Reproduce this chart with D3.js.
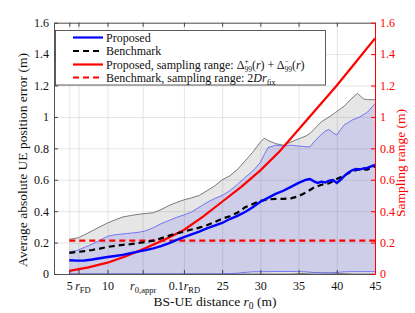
<!DOCTYPE html>
<html>
<head>
<meta charset="utf-8">
<style>
  body { margin: 0; background: #fff; }
  svg { font-family: "Liberation Serif", "DejaVu Serif", serif; }
</style>
</head>
<body>
<svg width="415" height="313"></svg>
<script src="https://cdn.jsdelivr.net/npm/d3@7"></script>
<script>

// ---- data ----
var xTicks = [5, 6.2, 10, 14.6, 20, 25, 30, 35, 40, 45];
var xTickLabels = ["5", "r|FD", "10", "r|0,appr", "0.1r|RD", "25", "30", "35", "40", "45"];
var yTicks = [0, 0.2, 0.4, 0.6, 0.8, 1, 1.2, 1.4, 1.6];

// proposed, average error
var propX = [5, 6, 7, 8, 9, 10, 11, 12, 13, 14, 15, 16, 17, 18, 19, 20, 21, 22, 23, 24, 25, 26, 27, 28, 29, 30,
  31, 32, 33, 34, 35, 36, 36.5, 37, 37.5, 38, 38.5, 39, 39.5, 40, 40.5, 41, 41.5, 42, 42.5, 43, 43.5, 44, 44.5, 45];
var propY = [0.088, 0.085, 0.086, 0.092, 0.1, 0.108, 0.115, 0.122, 0.132, 0.142, 0.152, 0.163, 0.178, 0.195, 0.215,
  0.235, 0.252, 0.27, 0.29, 0.308, 0.325, 0.35, 0.37, 0.395, 0.425, 0.46, 0.485, 0.51, 0.53, 0.555, 0.58, 0.6, 0.605,
  0.59, 0.58, 0.588, 0.582, 0.595, 0.598, 0.58, 0.6, 0.625, 0.645, 0.66, 0.668, 0.665, 0.672, 0.675, 0.685, 0.695];

// benchmark, average error
var benchX = [5, 6, 7, 8, 9, 10, 11, 12, 13, 14, 15, 16, 17, 18, 19, 20, 21, 22, 23, 24, 25, 26, 27, 28, 29, 30,
  31, 32, 33, 34, 35, 36, 37, 38, 39, 40, 41, 42, 43, 44, 45];
var benchY = [0.135, 0.14, 0.146, 0.153, 0.162, 0.172, 0.18, 0.186, 0.19, 0.197, 0.204, 0.212, 0.227, 0.243, 0.258,
  0.27, 0.283, 0.295, 0.31, 0.33, 0.352, 0.368, 0.39, 0.425, 0.445, 0.465, 0.475, 0.478, 0.478, 0.482, 0.495, 0.52,
  0.55, 0.568, 0.578, 0.605, 0.628, 0.655, 0.668, 0.665, 0.685];

// sampling ranges
var rangeX = [5, 7.5, 10, 12.5, 15, 17.5, 20, 22.5, 25, 27.5, 30, 32.5, 35, 37.5, 40, 42.5, 45];
var rangeProp = [0.02, 0.042, 0.072, 0.115, 0.165, 0.22, 0.28, 0.365, 0.46, 0.555, 0.66, 0.78, 0.92, 1.06, 1.2, 1.35, 1.5];
var rangeBench = 0.212;

// benchmark error band (upper edge; lower edge near zero)
var bandBX = [5, 6.2, 7, 8, 9, 10, 11, 12, 13, 14, 15, 16, 17, 18, 19, 20, 21, 22, 23, 24, 25, 26, 27, 28, 29, 30,
  30.5, 31, 32, 33, 34, 35, 36, 36.5, 37, 38, 39, 40, 41, 42, 42.7, 43.5, 44, 45];
var bandBHi = [0.221, 0.231, 0.25, 0.275, 0.3, 0.325, 0.345, 0.363, 0.372, 0.38, 0.385, 0.39, 0.41, 0.435, 0.455,
  0.472, 0.485, 0.5, 0.53, 0.56, 0.6, 0.625, 0.665, 0.72, 0.775, 0.84, 0.865, 0.85, 0.83, 0.82, 0.84, 0.86, 0.88,
  0.895, 0.92, 0.97, 1.0, 1.035, 1.07, 1.12, 1.15, 1.115, 1.11, 1.11];
var bandBLo = [0, 0, 0, 0, 0, 0, 0, 0, 0, 0, 0, 0, 0, 0, 0, 0, 0, 0, 0, 0, 0, 0, 0, 0, 0, 0,
  0, 0, 0, 0, 0, 0.002, 0.004, 0.005, 0.006, 0.006, 0.005, 0.004, 0.002, 0, 0, 0, 0, 0];

// proposed error band
var bandPX = [5, 6, 7, 8, 9, 10, 11, 12, 13, 14, 15, 16, 17, 18, 19, 20, 21, 22, 23, 24, 25, 26, 27, 28, 29, 30,
  30.5, 31, 32, 33, 34, 35, 36, 36.5, 37, 38, 38.5, 39, 39.5, 40, 40.5, 41, 42, 43, 44, 45];
var bandPHi = [0.142, 0.15, 0.17, 0.19, 0.215, 0.24, 0.25, 0.255, 0.26, 0.265, 0.275, 0.295, 0.32, 0.34, 0.36,
  0.376, 0.395, 0.425, 0.455, 0.48, 0.5, 0.53, 0.57, 0.615, 0.655, 0.71, 0.76, 0.805, 0.82, 0.815, 0.82, 0.815,
  0.81, 0.81, 0.84, 0.89, 0.91, 0.92, 0.9, 0.885, 0.92, 0.95, 0.98, 1.0, 1.03, 1.085];
var bandPLo = [0, 0, 0, 0, 0, 0, 0, 0, 0, 0, 0, 0, 0, 0, 0, 0, 0, 0, 0, 0, 0, 0.002, 0.005, 0.01, 0.014, 0.015,
  0.015, 0.015, 0.016, 0.016, 0.016, 0.015, 0.014, 0.012, 0.009, 0.007, 0.007, 0.007, 0.008, 0.01, 0.012, 0.014,
  0.015, 0.015, 0.015, 0.015];

var legendLabels = ["Proposed", "Benchmark", "Proposed, sampling range: ", "Benchmark, sampling range: "];

// ---- layout ----
var svg = d3.select("svg");
var pLeft = 54, pRight = 375, pTop = 22.7, pBottom = 274;

var x = d3.scaleLinear().domain([3, 45]).range([pLeft, pRight]);
var y = d3.scaleLinear().domain([0, 1.6]).range([pBottom, pTop]);

function zip(xs, ys) { return xs.map(function(d, i) { return [d, ys[i]]; }); }

// grid
svg.append("g")
    .attr("transform", "translate(0," + pBottom + ")")
    .call(d3.axisBottom(x).tickValues(xTicks).tickSize(-(pBottom - pTop)).tickFormat(""))
    .call(function(g) { g.select(".domain").remove(); })
    .selectAll("line").attr("stroke", "#dedede").attr("stroke-width", 0.8);
svg.append("g")
    .attr("transform", "translate(" + pLeft + ",0)")
    .call(d3.axisLeft(y).tickValues(yTicks).tickSize(-(pRight - pLeft)).tickFormat(""))
    .call(function(g) { g.select(".domain").remove(); })
    .selectAll("line").attr("stroke", "#dedede").attr("stroke-width", 0.8);

// bands
var area = d3.area()
    .x(function(d) { return x(d[0]); })
    .y0(function(d) { return y(d[2]); })
    .y1(function(d) { return y(d[1]); });
var line = d3.line()
    .x(function(d) { return x(d[0]); })
    .y(function(d) { return y(d[1]); });

var bandB = bandBX.map(function(d, i) { return [d, bandBHi[i], bandBLo[i]]; });
var bandP = bandPX.map(function(d, i) { return [d, bandPHi[i], bandPLo[i]]; });

svg.append("path").attr("d", area(bandB))
    .attr("fill", "rgba(128,128,128,0.2)");
svg.append("path").attr("d", line(zip(bandBX, bandBHi)))
    .attr("fill", "none").attr("stroke", "#5a5a5a").attr("stroke-width", 0.8);
svg.append("path").attr("d", line(zip(bandBX, bandBLo)))
    .attr("fill", "none").attr("stroke", "#5a5a5a").attr("stroke-width", 0.8);

svg.append("path").attr("d", area(bandP))
    .attr("fill", "rgba(0,0,255,0.1)");
svg.append("path").attr("d", line(zip(bandPX, bandPHi)))
    .attr("fill", "none").attr("stroke", "#5b5bf5").attr("stroke-width", 0.8);
svg.append("path").attr("d", line(zip(bandPX, bandPLo)))
    .attr("fill", "none").attr("stroke", "#5b5bf5").attr("stroke-width", 0.8);

// main curves
svg.append("path").attr("d", line(zip(rangeX, rangeProp)))
    .attr("fill", "none").attr("stroke", "#ff0000").attr("stroke-width", 2.2);
svg.append("path").attr("d", line([[5, rangeBench], [45, rangeBench]]))
    .attr("fill", "none").attr("stroke", "#ff0000").attr("stroke-width", 2.2)
    .attr("stroke-dasharray", "6,4");
svg.append("path").attr("d", line(zip(benchX, benchY)))
    .attr("fill", "none").attr("stroke", "#000").attr("stroke-width", 2.2)
    .attr("stroke-dasharray", "6,4");
svg.append("path").attr("d", line(zip(propX, propY)))
    .attr("fill", "none").attr("stroke", "#0000ff").attr("stroke-width", 2.4);

// axes (ticks point inward)
function tickLabel(sel, str) {
  var parts = str.split("|");
  sel.text(null);
  if (parts.length == 1) { sel.text(str); return; }
  var head = parts[0];
  var pre = head.slice(0, head.length - 1);
  if (pre) sel.append("tspan").text(pre);
  sel.append("tspan").attr("font-style", "italic").text("r");
  sel.append("tspan").attr("dy", 2.5).attr("font-size", "8.5px").text(parts[1]);
}

var xb = svg.append("g")
    .attr("transform", "translate(0," + pBottom + ")")
    .call(d3.axisBottom(x).tickValues(xTicks).tickSizeInner(-4).tickSizeOuter(0)
      .tickFormat(function(d, i) { return xTickLabels[i]; }));
xb.select(".domain").attr("stroke", "#555");
xb.selectAll("line").attr("stroke", "#444");
xb.selectAll("text").attr("fill", "#111").attr("font-size", "12px").attr("font-family", "Liberation Serif")
    .attr("y", 7.5)
    .each(function(d, i) { tickLabel(d3.select(this), xTickLabels[i]); });
// nudge crowded first labels
xb.selectAll(".tick").filter(function(d) { return d == 6.2; }).select("text").attr("dx", 4);

var xt = svg.append("g")
    .attr("transform", "translate(0," + pTop + ")")
    .call(d3.axisTop(x).tickValues(xTicks).tickSizeInner(-4).tickSizeOuter(0).tickFormat(""));
xt.select(".domain").attr("stroke", "#555");
xt.selectAll("line").attr("stroke", "#444");

var yl = svg.append("g")
    .attr("transform", "translate(" + pLeft + ",0)")
    .call(d3.axisLeft(y).tickValues(yTicks).tickSizeInner(-4).tickSizeOuter(0).tickFormat(d3.format("")));
yl.select(".domain").attr("stroke", "#555");
yl.selectAll("line").attr("stroke", "#444");
yl.selectAll("text").attr("fill", "#111").attr("font-size", "12px").attr("font-family", "Liberation Serif")
    .attr("x", -5);

var yr = svg.append("g")
    .attr("transform", "translate(" + pRight + ",0)")
    .call(d3.axisRight(y).tickValues(yTicks).tickSizeInner(-4).tickSizeOuter(0).tickFormat(d3.format("")));
yr.select(".domain").attr("stroke", "#ff0000");
yr.selectAll("line").attr("stroke", "#ff0000");
yr.selectAll("text").attr("fill", "#ff0000").attr("font-size", "12px").attr("font-family", "Liberation Serif")
    .attr("x", 5);

// axis titles
svg.append("text")
    .attr("transform", "translate(27,160) rotate(-90)")
    .attr("text-anchor", "middle").attr("font-size", "13.5px").attr("fill", "#111")
    .text("Average absolute UE position error (m)");

svg.append("text")
    .attr("transform", "translate(405,163) rotate(-90)")
    .attr("text-anchor", "middle").attr("font-size", "13.5px").attr("fill", "#ff0000")
    .text("Sampling range (m)");

var xl = svg.append("text")
    .attr("x", 215).attr("y", 306)
    .attr("text-anchor", "middle").attr("font-size", "13.5px").attr("fill", "#111");
xl.append("tspan").text("BS-UE distance ");
xl.append("tspan").attr("font-style", "italic").text("r");
xl.append("tspan").attr("dy", 3).attr("font-size", "9.5px").text("0");
xl.append("tspan").attr("dy", -3).text(" (m)");

// legend
var lg = svg.append("g");
lg.append("rect")
    .attr("x", 55.5).attr("y", 30.5).attr("width", 270).attr("height", 54.5)
    .attr("fill", "#fff").attr("stroke", "#333").attr("stroke-width", 0.8);

var legendStyles = [
  { stroke: "#0000ff", dash: null },
  { stroke: "#000", dash: "6,4" },
  { stroke: "#ff0000", dash: null },
  { stroke: "#ff0000", dash: "6,4" }
];
var legendY = [37.5, 51, 64.5, 77.5];

legendLabels.forEach(function(lab, i) {
  lg.append("line")
      .attr("x1", 73).attr("x2", 103).attr("y1", legendY[i]).attr("y2", legendY[i])
      .attr("stroke", legendStyles[i].stroke).attr("stroke-width", 2.2)
      .attr("stroke-dasharray", legendStyles[i].dash);
  var t = lg.append("text")
      .attr("x", 106).attr("y", legendY[i] + 4)
      .attr("font-size", "12px").attr("fill", "#111");
  t.append("tspan").text(lab);
  if (i == 2) {
    t.append("tspan").text("\u0394");
    t.append("tspan").attr("dy", -4.5).attr("font-size", "7.5px").text("+");
    t.append("tspan").attr("dx", -4.2).attr("dy", 7.5).attr("font-size", "7.5px").text("99");
    t.append("tspan").attr("dy", -3).text("(");
    t.append("tspan").attr("font-style", "italic").text("r");
    t.append("tspan").text(") + \u0394");
    t.append("tspan").attr("dy", -4.5).attr("font-size", "7.5px").text("\u2212");
    t.append("tspan").attr("dx", -4.2).attr("dy", 7.5).attr("font-size", "7.5px").text("99");
    t.append("tspan").attr("dy", -3).text("(");
    t.append("tspan").attr("font-style", "italic").text("r");
    t.append("tspan").text(")");
  }
  if (i == 3) {
    t.append("tspan").text("2");
    t.append("tspan").attr("font-style", "italic").text("D");
    t.append("tspan").attr("font-style", "italic").text("r");
    t.append("tspan").attr("dy", 3).attr("font-size", "8px").text("fix");
  }
});

</script>
</body>
</html>
